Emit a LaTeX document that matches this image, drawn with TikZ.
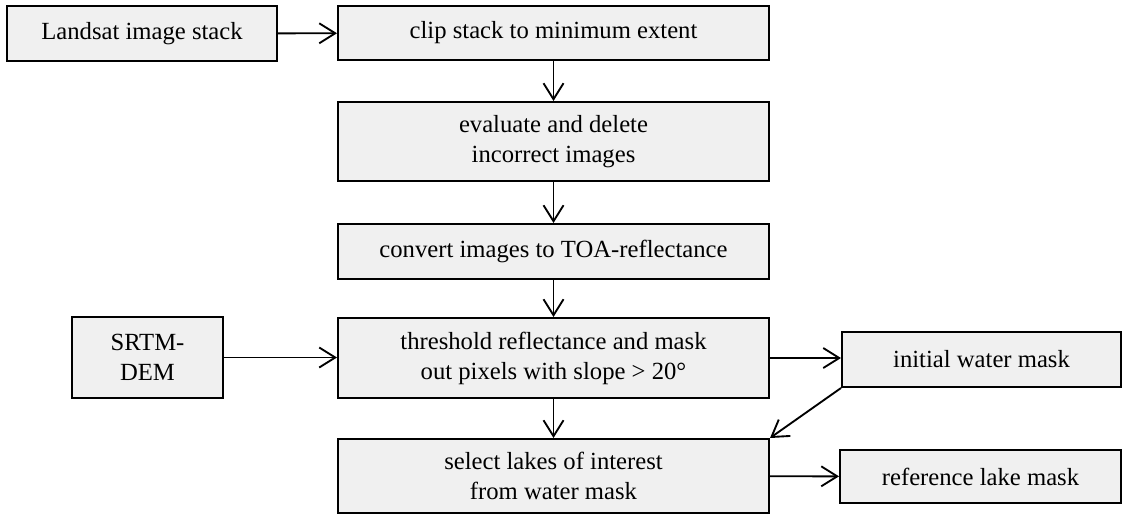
\documentclass[tikz,border=0pt]{standalone}
\usepackage{fontspec}
\setmainfont{Liberation Serif}
\usetikzlibrary{arrows.meta}
\begin{document}
\begin{tikzpicture}[x=0.75pt, y=-0.75pt,
  stepbox/.style={draw=black, line width=1.5pt, fill=black!6, align=center,
    inner sep=0pt, font=\fontsize{18.5}{22.5}\selectfont},
  flow/.style={line width=1.4pt, -{Straight Barb[length=12pt, width=15pt, line width=1.4pt]}}]
  \useasboundingbox (0,0) rectangle (1123,515);
  % left inputs
  \node[stepbox, minimum width=270*0.75pt, minimum height=55*0.75pt] (landsat) at (142,33.5) {Landsat image stack};
  \node[stepbox, minimum width=151*0.75pt, minimum height=81*0.75pt] (srtm) at (147.5,357.5) {SRTM-\\DEM};
  % main processing chain
  \node[stepbox, minimum width=431*0.75pt, minimum height=54*0.75pt] (clip) at (553.5,33) {clip stack to minimum extent};
  \node[stepbox, minimum width=431*0.75pt, minimum height=79*0.75pt] (eval) at (553.5,141.5) {evaluate and delete\\incorrect images};
  \node[stepbox, minimum width=431*0.75pt, minimum height=55*0.75pt] (toa) at (553.5,251.5) {convert images to TOA-reflectance};
  \node[stepbox, minimum width=431*0.75pt, minimum height=80*0.75pt] (thresh) at (553.5,358) {threshold reflectance and mask\\out pixels with slope > 20°};
  \node[stepbox, minimum width=431*0.75pt, minimum height=74*0.75pt] (select) at (553.5,476) {select lakes of interest\\from water mask};
  % outputs
  \node[stepbox, minimum width=279*0.75pt, minimum height=55*0.75pt] (water) at (981.5,359.5) {initial water mask};
  \node[stepbox, minimum width=281*0.75pt, minimum height=53*0.75pt] (lake) at (980.5,476.5) {reference lake mask};
  % connectors
  \draw[flow] (landsat) -- (clip);
  \draw[flow] (clip) -- (eval);
  \draw[flow] (eval) -- (toa);
  \draw[flow] (toa) -- (thresh);
  \draw[flow] (srtm) -- (thresh.west |- srtm);
  \draw[flow] (thresh) -- (select);
  \draw[flow] (thresh.east) -- (water.west |- thresh.east);
  \draw[flow] (water.south west) -- (select.north east);
  \draw[flow] (select) -- (lake);
\end{tikzpicture}
\end{document}
